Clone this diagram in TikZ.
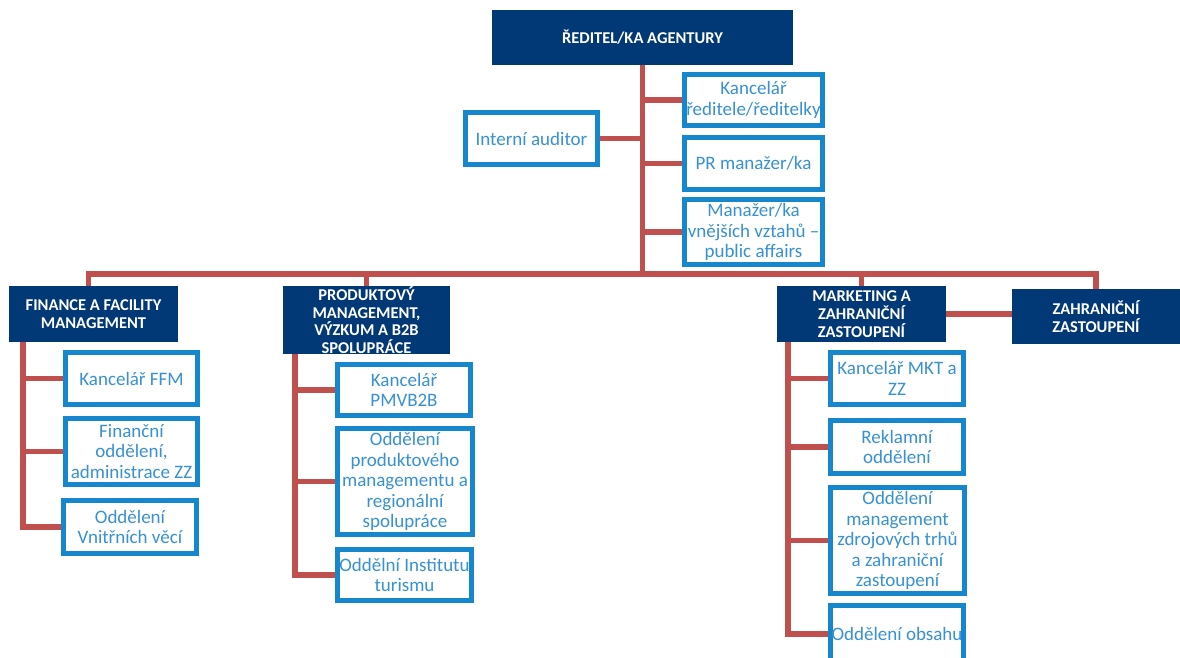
\documentclass[tikz,border=0pt]{standalone}
\usepackage{fontspec}
\setmainfont{Carlito}
\definecolor{navy}{RGB}{0,57,118}
\definecolor{boxblue}{RGB}{22,135,204}
\definecolor{txtblue}{RGB}{55,145,210}
\definecolor{linkred}{RGB}{192,80,77}
\begin{document}
\begin{tikzpicture}[x=1pt, y=-1pt,
  head/.style={fill=navy, text=white, align=center, inner sep=0pt,
    font=\fontsize{16.5}{17.7}\selectfont\bfseries},
  unit/.style={draw=boxblue, line width=5pt, fill=white, text=txtblue,
    align=center, inner sep=0pt, font=\fontsize{19}{20.5}\selectfont},
  box/.style 2 args={minimum width=#1pt-5pt, minimum height=#2pt-5pt},
  link/.style={draw=linkred, line width=5.5pt}]

  \path[use as bounding box, clip] (0,0) rectangle (1180,657); %% page

  %% top
  \node[head, minimum width=301pt, minimum height=55pt] (dir) at (642.5,37.5)
    {ŘEDITEL/KA AGENTURY};
  \node[unit, box={143}{56}] (kanc) at (753.5,100) {Kancelář\\ředitele/ředitelky};
  \node[unit, box={143}{57}] (pr) at (753.5,163.5) {PR manažer/ka};
  \node[unit, box={143}{70}] (vztahy) at (753.5,232)
    {Manažer/ka\\vnějších vztahů –\\public affairs};
  \node[unit, box={137}{57}] (auditor) at (531.5,138.5) {Interní auditor};

  %% sections
  \node[head, minimum width=169pt, minimum height=56pt] (ffm) at (93.5,314)
    {FINANCE A FACILITY\\MANAGEMENT};
  \node[head, minimum width=167pt, minimum height=68pt] (pmv) at (366.5,320)
    {PRODUKTOVÝ\\MANAGEMENT,\\VÝZKUM A B2B\\SPOLUPRÁCE};
  \node[head, minimum width=169pt, minimum height=56pt] (mkt) at (861.5,314)
    {MARKETING A\\ZAHRANIČNÍ\\ZASTOUPENÍ};
  \node[head, minimum width=168pt, minimum height=55pt] (zz) at (1096,316.5)
    {ZAHRANIČNÍ\\ZASTOUPENÍ};

  %% finance
  \node[unit, box={137}{57}] (ffm1) at (131.5,378.5) {Kancelář FFM};
  \node[unit, box={137}{71}] (ffm2) at (131.5,451.5)
    {Finanční\\oddělení,\\administrace ZZ};
  \node[unit, box={138}{58}] (ffm3) at (130,527) {Oddělení\\Vnitřních věcí};

  %% produkt
  \node[unit, box={138}{56}] (pmv1) at (404,390) {Kancelář\\PMVB2B};
  \node[unit, box={140}{111}] (pmv2) at (405,481.5)
    {Oddělení\\produktového\\managementu a\\regionální\\spolupráce};
  \node[unit, box={139}{56}] (pmv3) at (404.5,575) {Oddělní Institutu\\turismu};

  %% marketing
  \node[unit, box={138}{57}] (mkt1) at (897,378.5) {Kancelář MKT a\\ZZ};
  \node[unit, box={138}{58}] (mkt2) at (897,447) {Reklamní\\oddělení};
  \node[unit, box={139}{111}] (mkt3) at (897.5,540.5)
    {Oddělení\\management\\zdrojových trhů\\a zahraniční\\zastoupení};
  \node[unit, box={138}{62}] (mkt4) at (897,634) {Oddělení obsahu};

  %% links
  \coordinate (bus) at (642,274);
  \draw[link] (dir.south) -- (dir.south |- bus);
  \draw[link] ([xshift=-5pt]ffm.north) |- (zz.north |- bus) -- (zz.north);
  \draw[link] (pmv.north) -- (pmv.north |- bus);
  \draw[link] (mkt.north) -- (mkt.north |- bus);
  \draw[link] (mkt.east) -- (mkt.east -| zz.west);
  \foreach \n in {kanc,pr,vztahy}
    \draw[link] (\n.west) -- (\n.west -| dir.south);
  \draw[link] (auditor.east) -- (auditor.east -| dir.south);

  \coordinate (ffmT) at ([xshift=14pt]ffm.south west);
  \draw[link] (ffmT) |- (ffm3.west);
  \foreach \n in {ffm1,ffm2}
    \draw[link] (\n.west) -- (\n.west -| ffmT);

  \coordinate (pmvT) at ([xshift=12pt]pmv.south west);
  \draw[link] (pmvT) |- (pmv3.west);
  \foreach \n in {pmv1,pmv2}
    \draw[link] (\n.west) -- (\n.west -| pmvT);

  \coordinate (mktT) at ([xshift=11pt]mkt.south west);
  \draw[link] (mktT) |- (mkt4.west);
  \foreach \n in {mkt1,mkt2,mkt3}
    \draw[link] (\n.west) -- (\n.west -| mktT);

\end{tikzpicture}
\end{document}
